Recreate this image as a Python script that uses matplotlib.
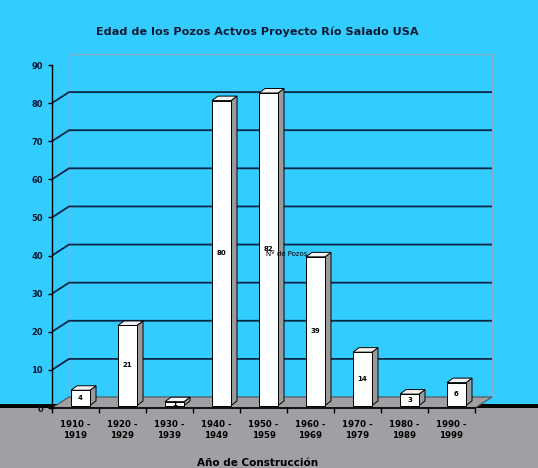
import matplotlib
matplotlib.use("Agg")
import matplotlib.pyplot as plt
from matplotlib.patches import Polygon, Rectangle

# ---- data ----
categories = ["1910 -\n1919", "1920 -\n1929", "1930 -\n1939", "1940 -\n1949",
              "1950 -\n1959", "1960 -\n1969", "1970 -\n1979", "1980 -\n1989",
              "1990 -\n1999"]
pozos = [4, 21, 1, 80, 82, 39, 14, 3, 6]
value_labels = ["4", "21", "1", "80", "82", "39", "14", "3", "6"]
yticks = [0, 10, 20, 30, 40, 50, 60, 70, 80, 90]
gridlevels = [10, 20, 30, 40, 50, 60, 70, 80]
title = "Edad de los Pozos Actvos Proyecto Río Salado USA"
xlabel = "Año de Construcción"
series_name = "Nº de Pozos"

# ---- style ----
BLUE = "#33CCFF"
GRAY = "#A0A0A4"
SIDE = "#9A9A9E"
NAVY = "#0B2545"
TXT = "#0A1A33"
FONT = "DejaVu Sans"

W, H = 538, 468
fig = plt.figure(figsize=(W / 100, H / 100), dpi=100, facecolor=BLUE)

# bottom gray region and black horizon band
fig.patches.append(Rectangle((0, 0), 1, (H - 408) / H, transform=fig.transFigure,
                             facecolor=GRAY, edgecolor="none", zorder=-2))
fig.patches.append(Rectangle((0, (H - 408) / H), 1, 4.5 / H, transform=fig.transFigure,
                             facecolor="black", edgecolor="none", zorder=-1))

ax = fig.add_axes([52 / W, (H - 408) / H, 423 / W, 343 / H])
n = len(pozos)
ax.set_xlim(-0.5, n - 0.5)
ax.set_ylim(0, 90)
ax.patch.set_visible(False)
for s in ("top", "right"):
    ax.spines[s].set_visible(False)
ax.spines["left"].set_color("black")
ax.spines["left"].set_linewidth(1.0)
ax.spines["bottom"].set_color("black")
ax.spines["bottom"].set_linewidth(1.2)

# 3D depth (in data units)
pxx = 423 / n
pxy = 343 / 90
WDX, WDY = 17 / pxx, 11 / pxy
x0, x1 = -0.5, n - 0.5

# back wall outline
ax.add_patch(Polygon([(x0 + WDX, WDY), (x0 + WDX, 90 + WDY), (x1 + WDX, 90 + WDY),
                      (x1 + WDX, WDY)], closed=False, fill=False,
                     edgecolor="#8AAFC8", lw=1.0, clip_on=False, zorder=1))
# gridlines on wall + connectors
for v in gridlevels:
    ax.plot([x0, x0 + WDX, x1 + WDX], [v, v + WDY, v + WDY], color=NAVY, lw=1.3,
            clip_on=False, zorder=1.2, solid_capstyle="butt")

# floor
ax.add_patch(Polygon([(x0, 0), (x1, 0), (x1 + WDX, WDY), (x0 + WDX, WDY)],
                     facecolor=GRAY, edgecolor="#505050", lw=0.8, clip_on=False, zorder=1.5))

# bars
w = 19 / pxx
ox = 5 / pxx
oy = 2.5 / pxy
ddx, ddy = 6 / pxx, 4.5 / pxy
for i, (v, lab) in enumerate(zip(pozos, value_labels)):
    xl = i - w / 2 + ox
    xr = xl + w
    yb, yt = oy, oy + v
    ax.add_patch(Polygon([(xr, yb), (xr + ddx, yb + ddy), (xr + ddx, yt + ddy), (xr, yt)],
                         facecolor=SIDE, edgecolor="black", lw=0.7, clip_on=False, zorder=3))
    ax.add_patch(Polygon([(xl, yt), (xr, yt), (xr + ddx, yt + ddy), (xl + ddx, yt + ddy)],
                         facecolor="#F4F4F4", edgecolor="black", lw=0.7, clip_on=False, zorder=3))
    ax.add_patch(Rectangle((xl, yb), w, v, facecolor="white", edgecolor="black",
                           lw=0.7, clip_on=False, zorder=3.1))
    ax.text(xl + w / 2, yb + v / 2, lab, ha="center", va="center", fontsize=5,
            fontweight="bold", family=FONT, color="black", zorder=4)

ax.text(4.06, 40.4, series_name, ha="left", va="center", fontsize=5,
        family=FONT, color="black", zorder=5)

# y axis ticks
ax.set_yticks(yticks)
ax.set_yticklabels([str(t) for t in yticks], fontsize=6, fontweight="bold",
                   family=FONT, color=TXT)
ax.tick_params(axis="y", direction="out", length=3, width=1, pad=3.4, color="black")

# x axis ticks at category boundaries, labels at centers
ax.set_xticks([i - 0.5 for i in range(n + 1)])
ax.set_xticklabels([""] * (n + 1))
ax.set_xticks(list(range(n)), minor=True)
ax.set_xticklabels(categories, minor=True, fontsize=6.2, fontweight="bold",
                   family=FONT, color="black", linespacing=1.3)
ax.tick_params(axis="x", which="major", direction="out", length=3.6, width=1, color="black")
ax.tick_params(axis="x", which="minor", length=0, pad=8.3)

fig.text(257 / W, (H - 35) / H, title, ha="center", va="baseline", fontsize=8.1,
         fontweight="bold", family=FONT, color=TXT)
fig.text(258 / W, (H - 466) / H, xlabel, ha="center", va="baseline", fontsize=7.5,
         fontweight="bold", family=FONT, color="black")

fig.savefig("out.png", dpi=100, facecolor=BLUE)
